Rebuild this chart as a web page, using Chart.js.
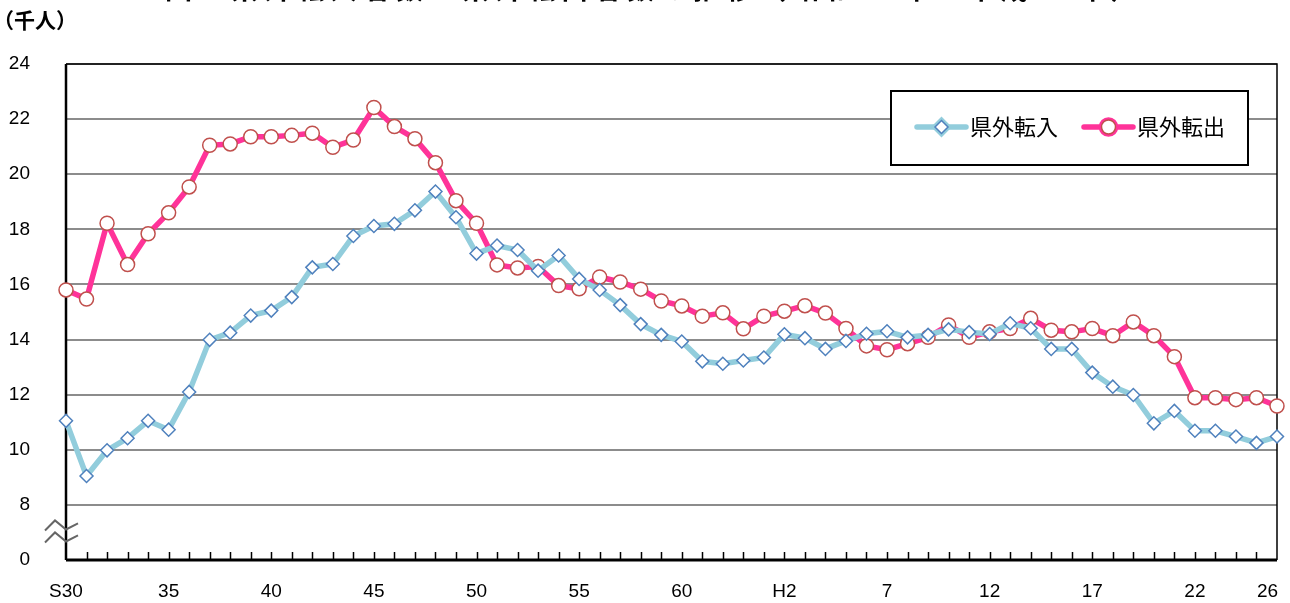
<!DOCTYPE html>
<html lang="ja">
<head>
<meta charset="utf-8">
<script src="https://cdn.jsdelivr.net/npm/chart.js@4.4.0/dist/chart.umd.min.js"></script>
<style>
  body { margin: 0; background: #fff; }
  #wrap { position: relative; width: 1290px; height: 603px; overflow: hidden; }
  #title { position: absolute; left: 165px; top: -32px; white-space: nowrap;
    font: bold 27px "Noto Sans CJK JP"; color: #000; letter-spacing: 6px; }
  #unit { position: absolute; left: -7px; top: 4px; font: bold 21px "Noto Sans CJK JP"; color: #000; }
</style>
</head>
<body>
<div id="wrap">
  <div id="title">図　県外転入者数・県外転出者数の推移（昭和30年～平成26年）</div>
  <div id="unit">（千人）</div>
  <canvas id="myChart" width="1290" height="603"></canvas>
</div>
<script>
// 横軸のラベル（S30〜H26）
const xLabels = [
  "S30", "", "", "", "", "35", "", "", "", "",
  "40", "", "", "", "", "45", "", "", "", "",
  "50", "", "", "", "", "55", "", "", "", "",
  "60", "", "", "", "", "H2", "", "", "", "",
  "7", "", "", "", "", "12", "", "", "", "",
  "17", "", "", "", "", "22", "", "", "", "26\u2002\u2002"
];

// 県外転入（千人）
const tennyu = [
  11.05, 9.05, 9.98, 10.42, 11.05, 10.73, 12.10, 13.99, 14.25, 14.87,
  15.05, 15.54, 16.62, 16.74, 17.76, 18.12, 18.20, 18.69, 19.37, 18.44,
  17.12, 17.41, 17.25, 16.50, 17.05, 16.20, 15.80, 15.25, 14.56, 14.17,
  13.93, 13.21, 13.12, 13.24, 13.35, 14.19, 14.05, 13.66, 13.95, 14.21,
  14.30, 14.08, 14.17, 14.37, 14.27, 14.20, 14.59, 14.41, 13.66, 13.66,
  12.80, 12.29, 11.99, 10.96, 11.41, 10.69, 10.69, 10.48, 10.25, 10.48
];

// 県外転出（千人）
const tenshutsu = [
  15.80, 15.47, 18.22, 16.72, 17.84, 18.60, 19.54, 21.05, 21.10, 21.36,
  21.36, 21.41, 21.49, 20.98, 21.24, 22.42, 21.73, 21.29, 20.42, 19.04,
  18.22, 16.71, 16.60, 16.65, 15.96, 15.84, 16.27, 16.09, 15.83, 15.40,
  15.22, 14.85, 14.97, 14.39, 14.85, 15.03, 15.23, 14.96, 14.40, 13.77,
  13.63, 13.85, 14.08, 14.53, 14.08, 14.28, 14.40, 14.77, 14.34, 14.28,
  14.40, 14.14, 14.64, 14.14, 13.38, 11.89, 11.89, 11.82, 11.89, 11.59
];

// 縦軸：6 を「0」として表示（8 と 0 の間を省略）
const yTicks = [6, 8, 10, 12, 14, 16, 18, 20, 22, 24];

const numFont = { family: "'Liberation Sans', Arial, sans-serif", size: 19 };

// 枠線・目盛り・省略記号・凡例
const decorPlugin = {
  id: "decor",
  beforeDatasetsDraw(chart) {
    const { ctx, chartArea: a, scales } = chart;
    ctx.save();
    ctx.strokeStyle = "#000";
    // 上と右の枠
    ctx.lineWidth = 1.5;
    ctx.beginPath();
    ctx.moveTo(a.left, a.top);
    ctx.lineTo(a.right, a.top);
    ctx.lineTo(a.right, a.bottom);
    ctx.stroke();
    // 左軸
    ctx.lineWidth = 2.5;
    ctx.beginPath();
    ctx.moveTo(a.left, a.top);
    ctx.lineTo(a.left, a.bottom);
    ctx.stroke();
    // 下軸
    ctx.lineWidth = 3;
    ctx.beginPath();
    ctx.moveTo(a.left, a.bottom);
    ctx.lineTo(a.right, a.bottom);
    ctx.stroke();
    // 内向きの目盛り
    ctx.lineWidth = 1.5;
    ctx.beginPath();
    for (let i = 1; i < xLabels.length - 1; i++) {
      const x = Math.round(scales.x.getPixelForValue(i)) + 0.5;
      ctx.moveTo(x, a.bottom);
      ctx.lineTo(x, a.bottom - 8);
    }
    ctx.stroke();
    // 省略記号
    const cy = scales.y.getPixelForValue(7);
    ctx.strokeStyle = "#666";
    ctx.lineWidth = 2;
    [-6, 6].forEach(dy => {
      const y = cy + dy;
      ctx.beginPath();
      ctx.moveTo(a.left - 21, y + 4);
      ctx.lineTo(a.left - 11, y - 6);
      ctx.lineTo(a.left, y + 3);
      ctx.lineTo(a.left + 12, y - 3);
      ctx.stroke();
    });
    ctx.restore();
  },
  afterDatasetsDraw(chart) {
    const { ctx } = chart;
    const bx = 891, by = 91, bw = 357, bh = 74;
    ctx.save();
    ctx.fillStyle = "#fff";
    ctx.fillRect(bx, by, bw, bh);
    ctx.strokeStyle = "#000";
    ctx.lineWidth = 2;
    ctx.strokeRect(bx, by, bw, bh);
    const items = [
      { ds: chart.data.datasets[0], x: 917 },
      { ds: chart.data.datasets[1], x: 1084 }
    ];
    const cy = by + bh / 2 - 1;
    items.forEach(it => {
      const ds = it.ds;
      ctx.strokeStyle = ds.borderColor;
      ctx.lineWidth = ds.borderWidth;
      ctx.lineCap = "round";
      ctx.beginPath();
      ctx.moveTo(it.x, cy);
      ctx.lineTo(it.x + 49, cy);
      ctx.stroke();
      Chart.helpers.drawPoint(ctx, {
        pointStyle: ds.pointStyle,
        radius: ds.pointRadius,
        borderWidth: ds.pointBorderWidth,
        rotation: 0
      }, it.x + 24.5, cy);
      ctx.fillStyle = ds.pointBackgroundColor;
      ctx.strokeStyle = ds.pointBorderColor;
      ctx.lineWidth = ds.pointBorderWidth;
      ctx.fill();
      ctx.stroke();
      ctx.fillStyle = "#000";
      ctx.font = "22px 'Noto Sans CJK JP'";
      ctx.textBaseline = "middle";
      ctx.textAlign = "left";
      ctx.fillText(ds.label, it.x + 53, cy);
    });
    ctx.restore();
  }
};

const data = {
  labels: xLabels,
  datasets: [
    {
      label: "県外転入",
      data: tennyu,
      borderColor: "#92cddc",
      borderWidth: 5.5,
      pointStyle: "rectRot",
      pointRadius: 6.5,
      pointBorderWidth: 1.5,
      pointBackgroundColor: "#fff",
      pointBorderColor: "#4f81bd"
    },
    {
      label: "県外転出",
      data: tenshutsu,
      borderColor: "#ff3399",
      borderWidth: 5.5,
      pointStyle: "circle",
      pointRadius: 7,
      pointBorderWidth: 1.5,
      pointBackgroundColor: "#fff",
      pointBorderColor: "#c0504d"
    }
  ]
};

const config = {
  type: "line",
  data: data,
  options: {
    responsive: false,
    animation: false,
    events: [],
    layout: { padding: { top: 64, right: 13, bottom: 0, left: 0 } },
    elements: { line: { tension: 0 } },
    plugins: {
      legend: { display: false },
      tooltip: { enabled: false }
    },
    scales: {
      x: {
        type: "category",
        offset: false,
        grid: { display: false, drawTicks: false },
        border: { display: false },
        ticks: {
          autoSkip: false,
          maxRotation: 0,
          padding: 20,
          color: "#000",
          font: numFont
        },
        afterFit: s => { s.height = 43; s.paddingLeft = 0; s.paddingRight = 0; }
      },
      y: {
        min: 6,
        max: 24,
        afterBuildTicks: s => { s.ticks = yTicks.map(v => ({ value: v })); },
        grid: { color: "#8c8c8c", lineWidth: 2, drawTicks: false },
        border: { display: false },
        ticks: {
          padding: 36,
          color: "#000",
          font: numFont,
          callback: v => (v === 6 ? "0" : String(v))
        },
        afterFit: s => { s.width = 66; s.paddingTop = 0; s.paddingBottom = 0; }
      }
    }
  },
  plugins: [decorPlugin]
};

const ctx = document.getElementById("myChart").getContext("2d");
new Chart(ctx, config);
</script>
</body>
</html>
